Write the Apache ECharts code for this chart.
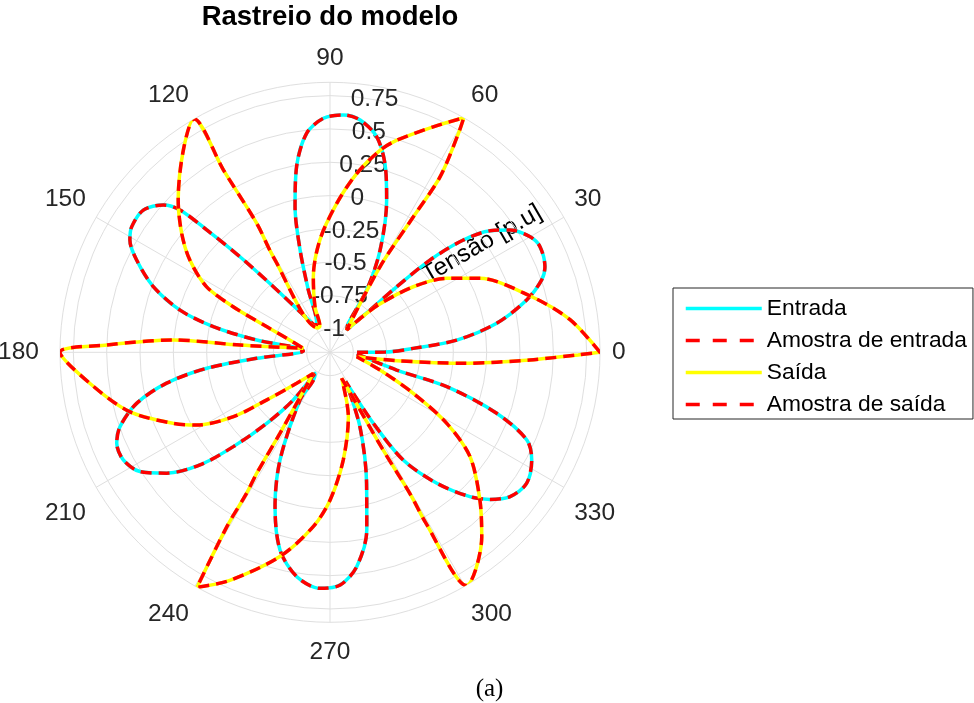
<!DOCTYPE html>
<html>
<head>
<meta charset="utf-8">
<script src="https://cdn.jsdelivr.net/npm/echarts@6/dist/echarts.min.js"></script>
<style>
  html, body { margin: 0; padding: 0; background: #ffffff; }
  #chart { width: 974px; height: 703px; }
</style>
</head>
<body>
<div id="chart"></div>
<script>
// Sinal de entrada: ângulo (graus) e tensão (p.u.) ponto a ponto
const entradaAngulo = [
  0, 0.2, 2.7, 5.5, 9.9, 14.9, 18.9, 21.7, 26.7, 30, 34.2, 37.2, 40.1, 42.7, 44.5, 46.6, 53.2,
  57.7, 59.5, 63.9, 69.6, 73.8, 77.8, 82.6, 86.8, 91.6, 96.1, 100.2, 103.5, 106.3, 109.2, 114.6,
  117.5, 130.8, 133.3, 135.2, 136.5, 138.5, 142.7, 147.7, 150.7, 154.5, 159.6, 164.3, 167.6, 170.5, 172.4,
  177, 184.7, 187.4, 190.7, 194.8, 199.5, 203.1, 207.5, 212.1, 216.5, 220.9, 224.3, 228.3, 232.4, 234.5,
  236.5, 237.8, 245.1, 250.4, 255.8, 261.6, 267.6, 272.5, 277.1, 281.7, 285.6, 291.9, 298.3,
  301.4, 304.2, 309.2, 314.1, 317.4, 321.3, 326.3, 331.9, 336, 339.9, 343.6, 345.1, 356.4
];
const entradaTensao = [
  -0.972, -0.762, -0.55, -0.22, 0.094, 0.351, 0.503, 0.56, 0.588, 0.558, 0.457, 0.333, 0.132, -0.155, -0.474, -0.738, -0.966,
  -0.92, -0.633, -0.321, 0.044, 0.301, 0.48, 0.582, 0.608, 0.581, 0.477, 0.24, -0.052, -0.376, -0.68, -0.936,
  -0.958, -0.525, -0.19, 0.128, 0.376, 0.493, 0.585, 0.585, 0.546, 0.432, 0.239, -0.007, -0.279, -0.618, -0.948,
  -0.975, -0.623, -0.243, 0.072, 0.325, 0.496, 0.564, 0.573, 0.508, 0.349, 0.115, -0.162, -0.462, -0.724, -0.981,
  -0.971, -0.752, -0.285, 0.054, 0.354, 0.527, 0.597, 0.572, 0.445, 0.186, -0.155, -0.574, -0.927,
  -0.551, -0.198, 0.093, 0.333, 0.455, 0.556, 0.597, 0.54, 0.441, 0.156, -0.262, -0.658, -0.974
];

// Sinal de saída: ângulo (graus) e tensão (p.u.) ponto a ponto
const saidaAngulo = [
  0, 7.8, 15.7, 26.3, 32.4, 38.2, 44.4, 49, 53.3,
  59.7, 58.4, 57.9, 59.6, 60.3,
  65.4, 72.6, 76.1, 81.5, 87.4, 95.1, 102.5, 108.2, 111.3,
  116, 120.7, 119.6, 120.3, 120.2,
  125.9, 134.9, 141.3, 146.6, 152, 154.8, 158, 162, 171.5,
  175.4, 175.5, 178.1, 180,
  187.4, 196.5, 204.4, 208.6, 213.7, 217, 222.9, 231.5,
  238.3, 238.8, 239.4, 239.4, 240.5,
  246.3, 256.3, 264.5, 270, 277, 285.9, 294.2,
  297.5, 298.5, 299.5, 299.3, 300.3,
  309.4, 315.4, 323.3, 328.7, 333.8, 340.5, 350.6,
  352.8, 355.3, 357.8, 359.4, 360
];
const saidaTensao = [
  0.85, 0.64, 0.385, 0.078, -0.14, -0.38, -0.665, -0.86, -0.965,
  -0.43, 0.018, 0.378, 0.73, 0.85,
  0.685, 0.49, 0.385, 0.18, -0.057, -0.327, -0.597, -0.815, -0.965,
  -0.972, -0.342, -0.065, 0.408, 0.85,
  0.70, 0.438, 0.25, 0.085, -0.125, -0.372, -0.665, -0.834, -0.972,
  -0.50, 0.003, 0.498, 0.85,
  0.64, 0.393, 0.115, -0.035, -0.305, -0.582, -0.834, -0.972,
  -0.462, -0.117, 0.055, 0.348, 0.85,
  0.693, 0.40, 0.138, -0.065, -0.361, -0.672, -0.961,
  -0.688, -0.35, 0.055, 0.288, 0.85,
  0.618, 0.404, 0.135, -0.15, -0.479, -0.777, -0.972,
  -0.672, -0.17, 0.325, 0.685, 0.85
];

// Escala radial e marcas
const limitesRaio = [-1.175, 0.85];
const marcasRaio = [-1, -0.75, -0.5, -0.25, 0, 0.25, 0.5, 0.75];
const passoAngulo = 30;

const entrada = entradaAngulo.map((a, i) => [entradaTensao[i], a]);
const saida = saidaAngulo.map((a, i) => [saidaTensao[i], a]);

const fonte = 'Liberation Sans, Arial, Helvetica, sans-serif';
const cinzaGrade = '#dfdfdf';
const corTexto = '#262626';
const centro = [330, 352.3];
const raio = 270;
const tracejado = [11, 7];
const tamRotulo = 24.5;

// afastamento extra de alguns rótulos angulares (estilo rich)
const estiloRotulo = { 180: 'esq', 210: 'baixo2', 240: 'baixo', 270: 'baixo', 300: 'baixo', 330: 'baixo2' };
const baseRich = { fontSize: tamRotulo, fontFamily: fonte, color: corTexto };

const chart = echarts.init(document.getElementById('chart'), null, { renderer: 'canvas' });

function linha(nome, dados, cor, tipo, z) {
  return {
    type: 'line',
    name: nome,
    coordinateSystem: 'polar',
    polarIndex: 0,
    data: dados,
    symbol: 'none',
    showSymbol: false,
    smooth: 0.3,
    silent: true,
    z: z,
    itemStyle: { color: cor },
    lineStyle: { color: cor, width: 3.5, type: tipo, cap: 'butt' }
  };
}

chart.setOption({
  animation: false,
  backgroundColor: '#ffffff',
  title: [
    {
      text: 'Rastreio do modelo',
      left: 330, top: 3, textAlign: 'center', padding: 0,
      textStyle: { fontFamily: fonte, fontWeight: 'bold', fontSize: 27.5, color: '#000000' }
    },
    {
      text: '(a)',
      left: 489.5, top: 677, textAlign: 'center', padding: 0,
      textStyle: { fontFamily: 'Liberation Serif, Times New Roman, serif', fontWeight: 'normal', fontSize: 25, color: '#000000' }
    }
  ],
  legend: {
    orient: 'vertical',
    left: 673, top: 288,
    padding: [9, 6, 3, 11],
    itemGap: 9,
    itemWidth: 76, itemHeight: 14,
    backgroundColor: '#ffffff',
    borderColor: corTexto, borderWidth: 1, borderRadius: 0,
    selectedMode: false,
    itemStyle: { opacity: 0 },
    lineStyle: { width: 3.5 },
    textStyle: { fontFamily: fonte, fontSize: 22.8, color: '#000000', lineHeight: 22 },
    data: [
      { name: 'Entrada' },
      { name: 'Amostra de entrada', lineStyle: { type: [14, 13], width: 3.5 } },
      { name: 'Saída' },
      { name: 'Amostra de saída', lineStyle: { type: [14, 13], width: 3.5 } }
    ]
  },
  polar: [
    { center: centro, radius: raio },
    { center: centro, radius: raio }
  ],
  angleAxis: [
    {
      polarIndex: 0, type: 'value', min: 0, max: 360, interval: passoAngulo,
      startAngle: 0, clockwise: false,
      axisLine: { show: true, lineStyle: { color: cinzaGrade, width: 1 } },
      axisTick: { show: false },
      axisLabel: {
        margin: 12, fontSize: tamRotulo, fontFamily: fonte, color: corTexto,
        formatter: v => {
          if (v >= 360) return '';
          const e = estiloRotulo[v];
          return e ? '{' + e + '|' + v + '}' : String(v);
        },
        rich: {
          baixo: Object.assign({ padding: [5, 0, 0, 0] }, baseRich),
          baixo2: Object.assign({ padding: [7, 0, 0, 0] }, baseRich),
          esq: Object.assign({ padding: [0, 9, 0, 0] }, baseRich)
        }
      },
      splitLine: { show: true, lineStyle: { color: cinzaGrade, width: 1 } }
    },
    {
      polarIndex: 1, type: 'value', min: 0, max: 360,
      startAngle: 80, clockwise: false, show: false
    }
  ],
  radiusAxis: [
    {
      polarIndex: 0, type: 'value', min: limitesRaio[0], max: limitesRaio[1],
      axisLine: { show: false },
      axisLabel: { show: false },
      axisTick: { show: false, customValues: marcasRaio },
      splitLine: { show: true, lineStyle: { color: cinzaGrade, width: 1 } }
    },
    {
      polarIndex: 1, type: 'value', min: limitesRaio[0], max: limitesRaio[1],
      axisLine: { show: false },
      axisTick: { show: false },
      splitLine: { show: false },
      axisLabel: {
        customValues: marcasRaio, margin: 0, align: 'center', verticalAlign: 'middle',
        fontSize: tamRotulo, fontFamily: fonte, color: corTexto
      }
    }
  ],
  graphic: [
    {
      type: 'text', x: 482, y: 244, rotation: Math.PI / 6, silent: true,
      style: {
        text: 'Tensão [p.u]', x: 0, y: 0, align: 'center', verticalAlign: 'middle',
        font: tamRotulo + 'px ' + fonte, fill: '#000000'
      }
    }
  ],
  series: [
    linha('Entrada', entrada, '#00ffff', 'solid', 2),
    linha('Amostra de entrada', entrada, '#ff0000', tracejado, 3),
    linha('Saída', saida, '#ffff00', 'solid', 4),
    linha('Amostra de saída', saida, '#ff0000', tracejado, 5)
  ]
});
</script>
</body>
</html>
